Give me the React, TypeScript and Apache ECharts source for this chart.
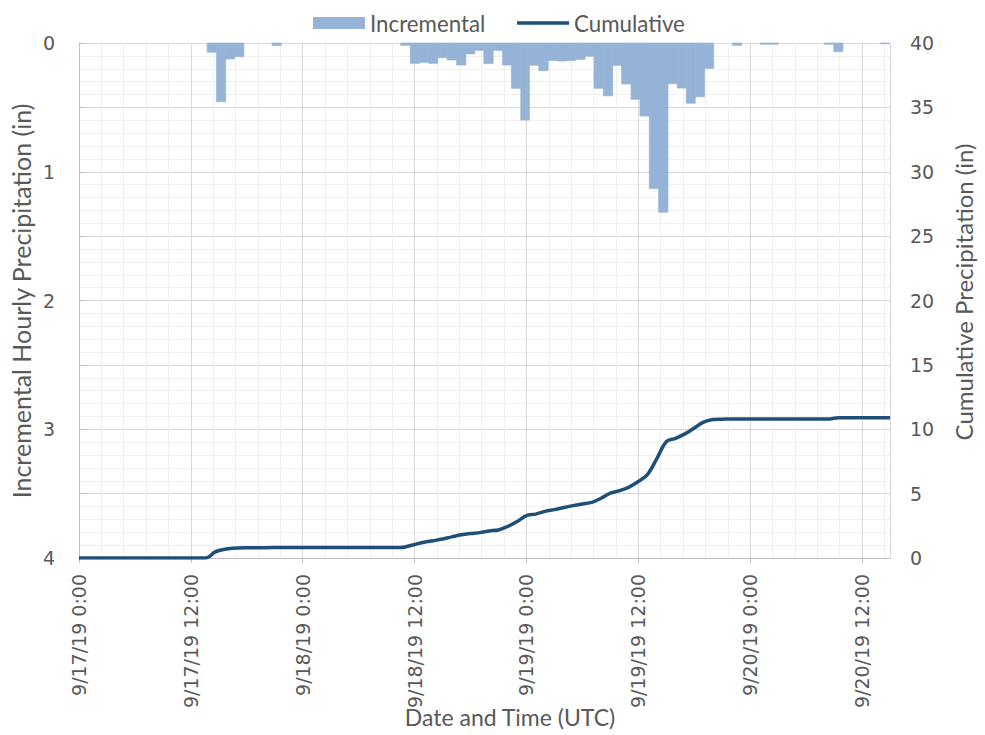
import React, { useEffect, useRef } from "react";
import * as echarts from "echarts";

// x values are hours since 9/17/19 0:00 UTC
const X_MAX_H = 87;
const X_TICK_LABELS = [
  "9/17/19 0:00",
  "9/17/19 12:00",
  "9/18/19 0:00",
  "9/18/19 12:00",
  "9/19/19 0:00",
  "9/19/19 12:00",
  "9/20/19 0:00",
  "9/20/19 12:00",
];

// Incremental hourly precipitation (in): bar start time (h) and depth
const BAR_START_H = [
  13.75, 14.74, 15.73, 16.71, 20.71,
  34.5, 35.54, 36.54, 37.53, 38.5, 39.5, 40.5, 41.5, 42.46, 43.43, 44.43, 45.43,
  46.39, 47.39, 48.32, 49.32, 50.33, 51.32, 52.29, 53.28, 54.29, 55.25, 56.25,
  57.25, 58.21, 59.22, 60.18, 61.18, 62.18, 63.18, 64.18, 65.14, 66.11, 67.1,
  70.11, 73.07, 74.04, 79.96, 80.97, 85.93,
];
const BAR_VALUES_IN = [
  0.072, 0.456, 0.124, 0.106, 0.02,
  0.018, 0.158, 0.15, 0.158, 0.114, 0.132, 0.171, 0.085, 0.057, 0.16, 0.057, 0.171,
  0.352, 0.598, 0.173, 0.215, 0.135, 0.14, 0.137, 0.127, 0.103, 0.352, 0.41,
  0.173, 0.318, 0.437, 0.567, 1.13, 1.315, 0.316, 0.35, 0.468, 0.417, 0.197,
  0.018, 0.01, 0.01, 0.01, 0.067, 0.005,
];
const BAR_DURATION_H = 0.98;

// Cumulative precipitation (in)
const CUM_HOURS = [
  0, 13.0, 13.6, 14.0, 14.5, 15.0, 15.5, 16.0, 17.0, 18.0, 20.0, 21.5, 34.5,
  35, 36, 37, 38, 39, 40, 41, 42, 43, 44, 45, 46, 47, 48, 49, 50, 51, 52, 53, 54,
  55, 56, 57, 58, 59, 60, 61, 62, 63, 64, 65, 66, 67, 68, 69, 70.6, 80.5, 81.5, 87,
];
const CUM_VALUES = [
  0, 0, 0, 0.12, 0.42, 0.58, 0.66, 0.72, 0.78, 0.8, 0.8, 0.82, 0.82,
  0.86, 1.05, 1.22, 1.34, 1.47, 1.64, 1.8, 1.9, 1.97, 2.1, 2.18, 2.45, 2.83, 3.29,
  3.41, 3.62, 3.76, 3.92, 4.07, 4.2, 4.32, 4.64, 5.04, 5.23, 5.51, 5.94, 6.5, 7.74,
  9.03, 9.3, 9.64, 10.1, 10.55, 10.76, 10.78, 10.8, 10.8, 10.9, 10.9,
];

const TEXT = "#595959";
const AXIS = "#bfbfbf";
const MAJOR = "#d9d9d9";
const MINOR = "#f0f0f0";
const BAR = "#95B3D7";
const LINE = "#1F4E79";
const TITLE_FONT = "Lato";
const TICK_FONT = "DejaVu Sans";

export default function App() {
  const ref = useRef<HTMLDivElement>(null);
  useEffect(() => {
    if (!ref.current) return;
    const chart = echarts.init(ref.current, undefined, { renderer: "svg" });
    const barData = BAR_START_H.map((s, i) => {
      const next = BAR_START_H[i + 1];
      const end = next !== undefined && next - s < 1.1 ? next : s + BAR_DURATION_H;
      return [s, end, BAR_VALUES_IN[i]];
    });
    const lineData = CUM_HOURS.map((h, i) => [h, CUM_VALUES[i]]);
    chart.setOption({
      animation: false,
      grid: { left: 79, right: 95, top: 43, bottom: 177, containLabel: false },
      legend: {
        left: 308,
        top: 7,
        itemWidth: 52,
        itemHeight: 12,
        itemGap: 30,
        textStyle: { color: TEXT, fontSize: 22.3, fontFamily: TITLE_FONT },
        data: [
          { name: "Incremental", icon: "rect" },
          { name: "Cumulative", itemStyle: { opacity: 0 }, lineStyle: { width: 3.5, color: LINE } },
        ],
      },
      xAxis: [
        {
          type: "value",
          min: 0,
          max: X_MAX_H,
          interval: 2.4,
          position: "top",
          axisLine: { show: false },
          axisTick: { show: false },
          axisLabel: { show: false },
          splitLine: { show: true, lineStyle: { color: MINOR, width: 1 } },
        },
        {
          type: "value",
          min: 0,
          max: X_MAX_H,
          interval: 12,
          position: "bottom",
          axisLine: { show: true, lineStyle: { color: AXIS, width: 1 } },
          axisTick: { show: true, length: 5, lineStyle: { color: AXIS } },
          axisLabel: {
            rotate: 90,
            margin: 16,
            showMaxLabel: false,
            color: TEXT,
            fontSize: 19,
            fontFamily: TICK_FONT,
            formatter: (v: number) => {
              const idx = Math.round(v / 12);
              return Math.abs(v - idx * 12) < 1e-6 ? X_TICK_LABELS[idx] ?? "" : "";
            },
          },
          splitLine: { show: true, lineStyle: { color: MAJOR, width: 1 } },
        },
      ],
      yAxis: [
        {
          type: "value",
          inverse: true,
          min: 0,
          max: 4,
          interval: 1,
          position: "left",
          axisLine: { show: true, lineStyle: { color: AXIS } },
          axisTick: { show: false },
          axisLabel: { color: TEXT, fontSize: 19, fontFamily: TICK_FONT, margin: 24 },
          splitLine: { show: false },
        },
        {
          type: "value",
          min: 0,
          max: 40,
          interval: 5,
          position: "right",
          axisLine: { show: true, lineStyle: { color: AXIS } },
          axisTick: { show: true, length: 7, lineStyle: { color: AXIS } },
          axisLabel: { color: TEXT, fontSize: 19, fontFamily: TICK_FONT, margin: 20 },
          splitLine: { show: true, lineStyle: { color: MAJOR } },
          minorTick: { show: false, splitNumber: 5 },
          minorSplitLine: { show: true, lineStyle: { color: MINOR } },
        },
      ],
      graphic: [
        {
          type: "text",
          x: 21,
          y: 301,
          rotation: Math.PI / 2,
          style: {
            text: "Incremental Hourly Precipitation (in)",
            fontSize: 25,
            fontFamily: TITLE_FONT,
            fill: TEXT,
            align: "center",
            verticalAlign: "middle",
          },
        },
        {
          type: "text",
          x: 963,
          y: 292,
          rotation: Math.PI / 2,
          style: {
            text: "Cumulative Precipitation (in)",
            fontSize: 24,
            fontFamily: TITLE_FONT,
            fill: TEXT,
            align: "center",
            verticalAlign: "middle",
          },
        },
        {
          type: "text",
          x: 510,
          y: 717,
          style: {
            text: "Date and Time (UTC)",
            fontSize: 23,
            fontFamily: TITLE_FONT,
            fill: TEXT,
            align: "center",
            verticalAlign: "middle",
          },
        },
      ],
      series: [
        {
          name: "Incremental",
          type: "custom",
          xAxisIndex: 1,
          yAxisIndex: 0,
          itemStyle: { color: BAR },
          encode: { x: [0, 1], y: 2 },
          data: barData,
          renderItem: (params: any, api: any) => {
            const p0 = api.coord([api.value(0), 0]);
            const p1 = api.coord([api.value(1), api.value(2)]);
            return {
              type: "rect",
              shape: { x: p0[0], y: p0[1], width: p1[0] - p0[0], height: p1[1] - p0[1] },
              style: { fill: BAR, stroke: BAR, lineWidth: 0.7 },
            };
          },
        },
        {
          name: "Cumulative",
          type: "line",
          xAxisIndex: 1,
          yAxisIndex: 1,
          symbol: "none",
          smooth: 0.35,
          lineStyle: { color: LINE, width: 3.5 },
          itemStyle: { color: LINE },
          data: lineData,
          z: 5,
        },
      ],
    });
    return () => chart.dispose();
  }, []);
  return (
    <div
      ref={ref}
      style={{ position: "absolute", left: 0, top: 0, width: 985, height: 735 }}
    />
  );
}
